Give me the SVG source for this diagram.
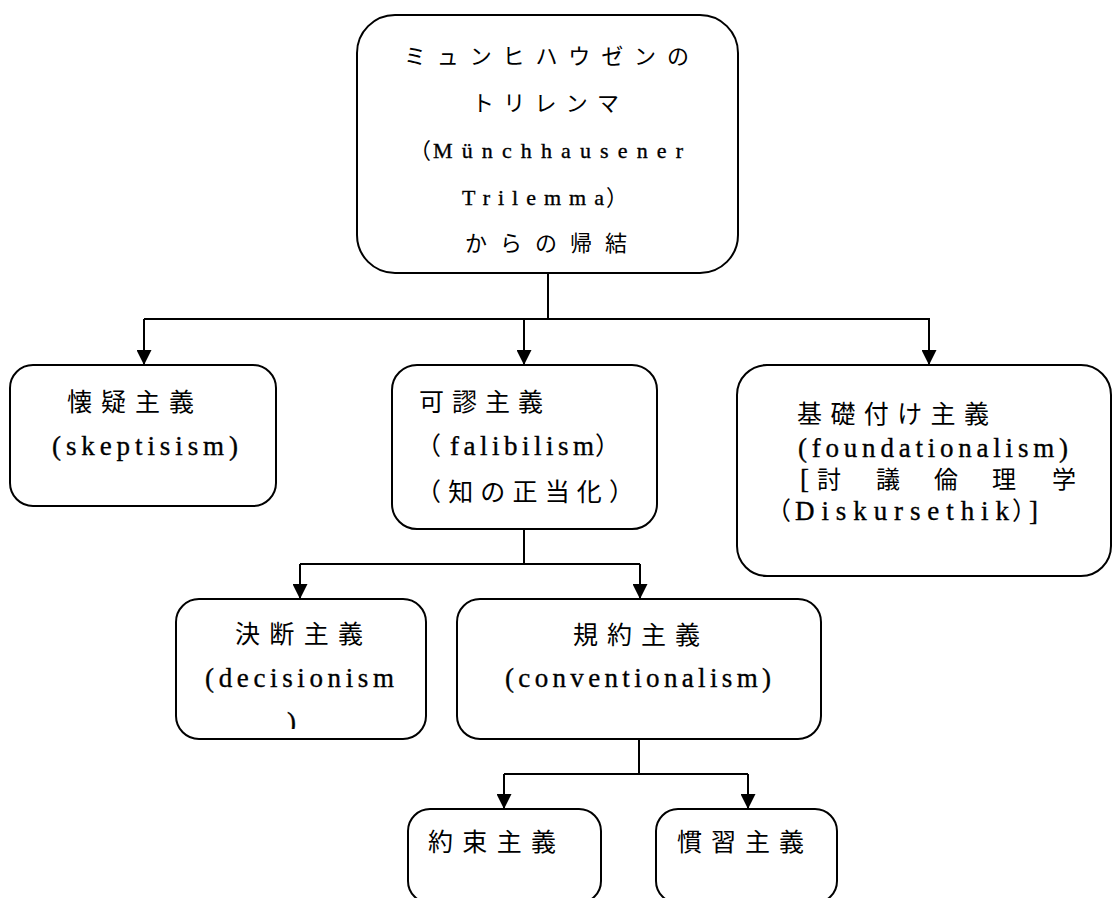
<svg xmlns="http://www.w3.org/2000/svg" width="1113" height="898" viewBox="0 0 1113 898">
<style>
.box{fill:#fff;stroke:#000;stroke-width:2}
text{fill:#000}
.j{font-family:"Noto Sans CJK JP","Noto Sans CJK SC",sans-serif}
.l{font-family:"Liberation Serif","Times New Roman","DejaVu Serif",serif;stroke:#000;stroke-width:0.35}
.top{font-size:22px}
.low{font-size:25px}
.lowl{font-size:27px}
.c{fill:none;stroke:#000;stroke-width:2}
</style>
<defs>
<marker id="arr" viewBox="0 0 15 15" refX="15" refY="7.5" markerWidth="15" markerHeight="15" orient="auto" markerUnits="userSpaceOnUse">
<path d="M0,0 L15,7.5 L0,15 Z" fill="#000"/>
</marker>
<clipPath id="clipDec"><rect x="176" y="599" width="250" height="130"/></clipPath>
</defs>
<rect width="1113" height="898" fill="#fff"/>
<g id="connectors">
<path class="c" d="M548,273 V319 M144,319 H930"/>
<path class="c" d="M144,319 V365" marker-end="url(#arr)"/>
<path class="c" d="M524,319 V365" marker-end="url(#arr)"/>
<path class="c" d="M929,319 V365" marker-end="url(#arr)"/>
<path class="c" d="M524,529 V564 M300,564 H640"/>
<path class="c" d="M300,564 V599" marker-end="url(#arr)"/>
<path class="c" d="M640,564 V599" marker-end="url(#arr)"/>
<path class="c" d="M639,739 V774 M504,774 H748"/>
<path class="c" d="M504,774 V809" marker-end="url(#arr)"/>
<path class="c" d="M748,774 V809" marker-end="url(#arr)"/>
</g>
<g id="node-root">
<rect class="box" x="357" y="15" width="381" height="258" rx="38"/>
<text class="j top" x="404" y="64" textLength="285" lengthAdjust="spacing">ミュンヒハウゼンの</text>
<text class="j top" x="472" y="111" textLength="147" lengthAdjust="spacing">トリレンマ</text>
<text class="top" y="158"><tspan class="j" x="409">（</tspan><tspan class="l" x="433" textLength="250" lengthAdjust="spacing">Münchhausener</tspan></text>
<text class="top" y="205"><tspan class="l" x="462" textLength="142" lengthAdjust="spacing">Trilemma</tspan><tspan class="j" x="606">）</tspan></text>
<text class="j top" x="465" y="251" textLength="162" lengthAdjust="spacing">からの帰結</text>
</g>
<g id="node-skeptisism">
<rect class="box" x="10" y="365" width="266" height="141" rx="23"/>
<text class="j low" x="67" y="411" textLength="127" lengthAdjust="spacing">懐疑主義</text>
<text class="l lowl" x="52" y="455" textLength="186" lengthAdjust="spacing">(skeptisism)</text>
</g>
<g id="node-falibilism">
<rect class="box" x="392" y="365" width="265" height="164" rx="25"/>
<text class="j low" x="419" y="411" textLength="124" lengthAdjust="spacing">可謬主義</text>
<text class="low" y="455"><tspan class="j" x="416">（</tspan><tspan class="l lowl" x="450" textLength="144" lengthAdjust="spacing">falibilism</tspan><tspan class="j" x="595">）</tspan></text>
<text class="j low" x="416" y="501" textLength="218" lengthAdjust="spacing">（知の正当化）</text>
</g>
<g id="node-foundationalism">
<rect class="box" x="737" y="365" width="374" height="211" rx="30"/>
<text class="j low" x="797" y="423" textLength="192" lengthAdjust="spacing">基礎付け主義</text>
<text class="l lowl" x="798" y="457" textLength="270" lengthAdjust="spacing">(foundationalism)</text>
<text class="low" y="488"><tspan class="l lowl" x="800">[</tspan><tspan class="j" font-size="24" x="817 876 934 992 1052">討議倫理学</tspan></text>
<text class="low" y="520"><tspan class="j" x="766">（</tspan><tspan class="l lowl" x="795" textLength="214" lengthAdjust="spacing">Diskursethik</tspan><tspan class="j" x="1012">）</tspan><tspan class="l lowl" x="1029">]</tspan></text>
</g>
<g id="node-decisionism">
<rect class="box" x="176" y="599" width="250" height="140" rx="23"/>
<text class="j low" x="235" y="643" textLength="128" lengthAdjust="spacing">決断主義</text>
<text class="l lowl" x="205" y="687" textLength="189" lengthAdjust="spacing">(decisionism</text>
<text class="l lowl" x="287" y="731" clip-path="url(#clipDec)">)</text>
</g>
<g id="node-conventionalism">
<rect class="box" x="457" y="599" width="364" height="140" rx="23"/>
<text class="j low" x="573" y="644" textLength="127" lengthAdjust="spacing">規約主義</text>
<text class="l lowl" x="505" y="687" textLength="266" lengthAdjust="spacing">(conventionalism)</text>
</g>
<g id="node-promise">
<rect class="box" x="408" y="809" width="193" height="94" rx="22"/>
<text class="j low" x="428" y="851" textLength="128" lengthAdjust="spacing">約束主義</text>
</g>
<g id="node-custom">
<rect class="box" x="656" y="809" width="181" height="94" rx="22"/>
<text class="j low" x="677" y="851" textLength="127" lengthAdjust="spacing">慣習主義</text>
</g>
</svg>
